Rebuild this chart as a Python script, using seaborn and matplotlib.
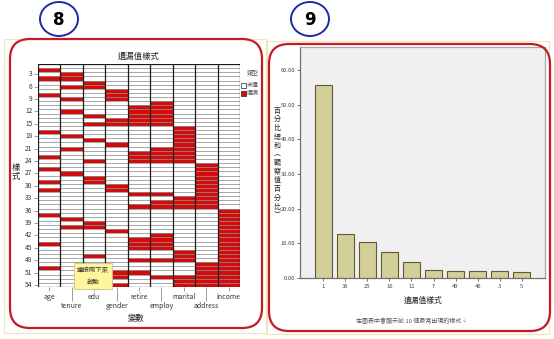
import numpy as np
import pandas as pd
import seaborn as sns
import matplotlib
matplotlib.use("Agg")
import matplotlib.pyplot as plt
from matplotlib.colors import ListedColormap
from matplotlib.patches import FancyBboxPatch, Ellipse, Rectangle

# ---------------- data ----------------
variables = ["age", "tenure", "edu", "gender", "retire", "employ", "marital", "address", "income"]

# missing variables for each pattern (pattern 1 .. 54)
pattern_missing = [
    [], ["age"], ["tenure"], ["age", "tenure"], ["edu"], ["tenure", "edu"],
    ["gender"], ["age", "gender"], ["tenure", "gender"], ["employ"],
    ["retire", "employ"], ["tenure", "retire", "employ"], ["edu", "retire", "employ"],
    ["gender", "retire", "employ"], ["edu", "gender", "retire", "employ"],
    ["marital"], ["age", "marital"], ["tenure", "marital"], ["edu", "marital"],
    ["gender", "marital"], ["tenure", "employ", "marital"], ["retire", "employ", "marital"],
    ["age", "retire", "employ", "marital"], ["edu", "retire", "employ", "marital"],
    ["address"], ["age", "address"], ["tenure", "address"], ["edu", "address"],
    ["age", "edu", "address"], ["gender", "address"], ["age", "gender", "address"],
    ["retire", "employ", "address"], ["marital", "address"], ["employ", "marital", "address"],
    ["retire", "employ", "marital", "address"],
    ["income"], ["age", "income"], ["tenure", "income"], ["edu", "income"],
    ["tenure", "edu", "income"], ["gender", "income"], ["employ", "income"],
    ["retire", "employ", "income"], ["age", "retire", "employ", "income"],
    ["retire", "employ", "income"], ["marital", "income"], ["edu", "marital", "income"],
    ["retire", "employ", "marital", "income"], ["address", "income"],
    ["age", "address", "income"], ["gender", "retire", "address", "income"],
    ["gender", "employ", "marital", "address", "income"], ["marital", "address", "income"],
    ["gender", "marital", "address", "income"],
]
pattern_ticks = list(range(3, 55, 3))

top_patterns = ["1", "36", "25", "16", "11", "7", "49", "46", "3", "5"]
top_percent = [55.6, 12.6, 10.5, 7.4, 4.5, 2.3, 2.0, 2.0, 2.0, 1.8]
percent_ticks = [0, 10, 20, 30, 40, 50, 60]

# ---------------- style ----------------
sns.set_style("white")
plt.rcParams["font.family"] = ["Noto Sans CJK TC", "DejaVu Sans"]
plt.rcParams["axes.unicode_minus"] = False

W, H = 554, 339
fig = plt.figure(figsize=(W / 100, H / 100), dpi=100)


def fr(x, y, w, h):
    """pixel box (top-left origin) -> figure fraction rect"""
    return [x / W, 1 - (y + h) / H, w / W, h / H]


def inch(x, y):
    return x / 100, (H - y) / 100


# ---------------- panel frames ----------------
for (x0, y0, x1, y1) in [(4, 39, 266, 333), (267, 41, 549, 334)]:
    fig.patches.append(Rectangle(inch(x0, y1), (x1 - x0) / 100, (y1 - y0) / 100,
                                 transform=fig.dpi_scale_trans, fill=False,
                                 edgecolor="#f3e4b8", lw=0.8, zorder=0))
for (x0, y0, x1, y1) in [(10, 39, 262, 328), (269, 44, 550, 331)]:
    fig.patches.append(FancyBboxPatch(inch(x0, y1), (x1 - x0) / 100, (y1 - y0) / 100,
                                      boxstyle="round,pad=0,rounding_size=0.2",
                                      transform=fig.dpi_scale_trans, fill=False,
                                      edgecolor="#c41a24", lw=1.6, zorder=1))

for cx, num in [(59, "8"), (310, "9")]:
    fig.patches.append(Ellipse(inch(cx, 19), 0.38, 0.34, transform=fig.dpi_scale_trans,
                               fill=False, edgecolor="#1f2aa8", lw=1.4))
    fig.text(cx / W, 1 - 20 / H, num, ha="center", va="center", fontsize=12,
             fontweight="bold", family="DejaVu Sans", color="black")

# ---------------- missing value pattern heatmap ----------------
matrix = pd.DataFrame(
    [[1 if v in row else 0 for v in variables] for row in pattern_missing],
    columns=variables, index=range(1, len(pattern_missing) + 1))

ax = fig.add_axes(fr(38, 64, 202, 223))
sns.heatmap(matrix, ax=ax, cmap=ListedColormap(["white", "#d40b0b"]), vmin=0, vmax=1,
            cbar=False, linewidths=0)
ax.hlines(np.arange(1, len(pattern_missing)), 0, len(variables), color="#8f8f8f", lw=0.55)
for k in range(len(variables) + 1):
    ax.axvline(k, color="#1a1a1a", lw=0.9)
ax.axhline(0, color="#1a1a1a", lw=0.9)
ax.axhline(len(pattern_missing), color="#1a1a1a", lw=0.9)

ax.set_yticks([t - 0.5 for t in pattern_ticks])
ax.set_yticklabels([str(t) for t in pattern_ticks], rotation=0, fontsize=4.8, color="#333333")
ax.tick_params(axis="y", left=True, length=3, width=0.5, color="#777777", pad=1)

ax.set_xticks([i + 0.5 for i in range(0, 9, 2)])
ax.set_xticklabels(variables[0::2], rotation=0, fontsize=5, color="#333333")
ax.set_xticks([i + 0.5 for i in range(1, 9, 2)], minor=True)
ax.set_xticklabels(variables[1::2], minor=True, rotation=0, fontsize=5, color="#333333")
ax.tick_params(axis="x", which="major", bottom=True, length=3, width=0.5, color="#777777", pad=1)
ax.tick_params(axis="x", which="minor", bottom=True, length=10, width=0.5, color="#777777", pad=1)
ax.set_xlabel("")
ax.set_ylabel("")

fig.text(139 / W, 1 - 56 / H, "遺漏值樣式", ha="center", va="center", fontsize=6, color="#222222")
fig.text(136 / W, 1 - 319 / H, "變數", ha="center", va="center", fontsize=6, color="#222222")
fig.text(16 / W, 1 - 172 / H, "樣\n式", ha="center", va="center", fontsize=6,
         color="#222222", linespacing=1.1)

# legend
fig.text(253 / W, 1 - 72 / H, "類型", ha="center", va="center", fontsize=4.3, color="#555555")
for yy, col, lab in [(85, "white", "未遺"), (93, "#d40b0b", "遺漏")]:
    fig.patches.append(Rectangle(inch(241, yy + 2.5), 0.05, 0.05, transform=fig.dpi_scale_trans,
                                 facecolor=col, edgecolor="#222222", lw=0.5))
    fig.text(247 / W, 1 - yy / H, lab, ha="left", va="center", fontsize=4.3, color="#555555")

# activation hint box
fig.text(93 / W, 1 - 276 / H, "連按兩下來\n啟動", ha="center", va="center", fontsize=4.6,
         color="#333333", linespacing=1.6,
         bbox=dict(boxstyle="square,pad=0.45", facecolor="#fff59a", edgecolor="#c9c38a", lw=0.6))

# ---------------- top patterns bar chart ----------------
ax2 = fig.add_axes(fr(300, 47, 245, 231))
bars = pd.DataFrame({"pattern": top_patterns, "percent": top_percent})
sns.barplot(data=bars, x="pattern", y="percent", order=top_patterns, ax=ax2,
            color="#d4cf98", edgecolor="#5e5b3a", linewidth=0.8, width=0.77, saturation=1)
ax2.set_facecolor("#f0f0f0")
ax2.set_xlim(-1.05, 10.05)
ax2.set_ylim(0, 66.6)
ax2.set_yticks(percent_ticks)
ax2.set_yticklabels([f"{t:.2f}" for t in percent_ticks], fontsize=4.2, color="#444444")
ax2.tick_params(axis="y", left=True, length=2.5, width=0.6, color="#555555", pad=1)
ax2.tick_params(axis="x", bottom=True, length=2.5, width=0.6, color="#555555", pad=2,
                labelsize=4.2, labelcolor="#444444")
for s in ["top", "right"]:
    ax2.spines[s].set_color("#a8a8a8")
    ax2.spines[s].set_linewidth(0.9)
for s in ["left", "bottom"]:
    ax2.spines[s].set_color("#707070")
    ax2.spines[s].set_linewidth(0.9)
ax2.set_xlabel("")
ax2.set_ylabel("")

fig.text(423 / W, 1 - 301 / H, "遺漏值樣式", ha="center", va="center", fontsize=5.6, color="#222222")
fig.text(412 / W, 1 - 321 / H, "在圖表中會顯示前 10 個最常出現的樣式。", ha="center", va="center",
         fontsize=4.3, color="#555555")
ylab = "百分比總和︵觀察值百分比︶"
fig.text(277 / W, 1 - 163 / H, "\n".join(ylab), ha="center", va="center", fontsize=5.0,
         color="#222222", linespacing=1.12)

fig.savefig("out.png", dpi=100)
